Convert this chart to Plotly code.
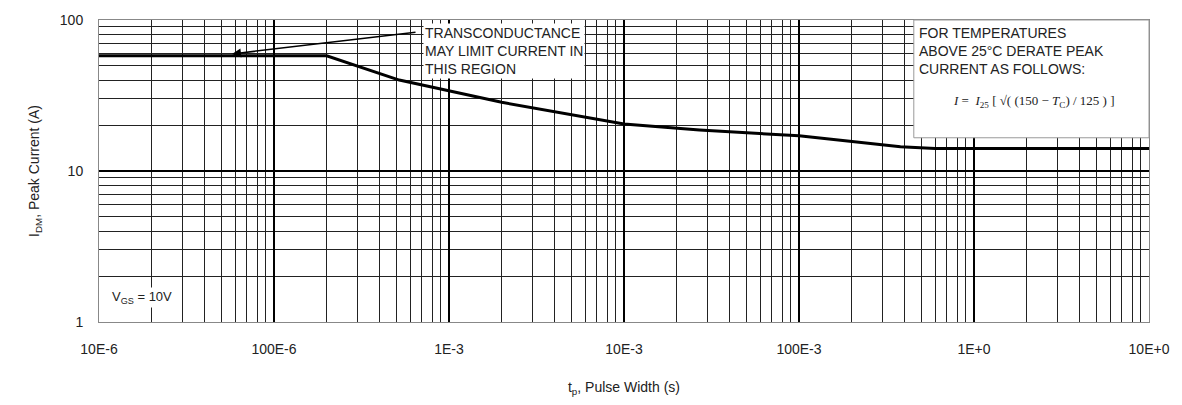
import plotly.graph_objects as go

# Curve: peak drain current vs pulse width
pulse_width_s = [1e-5, 2e-4, 5.2e-4, 2e-3, 1e-2, 2.7e-2, 0.1, 0.38, 0.6, 10]
peak_current_a = [58, 58, 40, 28.5, 20.5, 18.7, 17.1, 14.5, 14.1, 14.1]

x_tick_vals = [1e-5, 1e-4, 1e-3, 1e-2, 1e-1, 1, 10]
x_tick_text = ["10E-6", "100E-6", "1E-3", "10E-3", "100E-3", "1E+0", "10E+0"]
y_tick_vals = [1, 10, 100]
y_tick_text = ["1", "10", "100"]

FONT = "Liberation Sans, Arial, sans-serif"

fig = go.Figure()
fig.add_trace(go.Scatter(
    x=pulse_width_s, y=peak_current_a, mode="lines",
    line=dict(color="black", width=3), showlegend=False, hoverinfo="skip"))

fig.update_layout(
    width=1182, height=405,
    margin=dict(l=99, r=32, t=17, b=83),
    paper_bgcolor="white", plot_bgcolor="white",
    font=dict(family=FONT, size=13, color="#222"),
    xaxis=dict(
        type="log", range=[-5, 1],
        tickmode="array", tickvals=x_tick_vals, ticktext=x_tick_text,
        showgrid=True, gridcolor="black", gridwidth=1.5,
        minor=dict(dtick="D1", showgrid=True, gridcolor="#222", gridwidth=1, ticks=""),
        showline=True, linecolor="#888", linewidth=1, mirror=True,
        ticks="", ticklabelstandoff=14, tickfont=dict(size=14, color="#222"),
        title=dict(text="t<sub>p</sub>, Pulse Width (s)", font=dict(size=14), standoff=26),
        zeroline=False,
    ),
    yaxis=dict(
        type="log", range=[0, 2],
        tickmode="array", tickvals=y_tick_vals, ticktext=y_tick_text,
        showgrid=True, gridcolor="black", gridwidth=1.5,
        minor=dict(dtick="D1", showgrid=True, gridcolor="#222", gridwidth=1, ticks=""),
        showline=True, linecolor="#888", linewidth=1, mirror=True,
        ticks="", ticklabelstandoff=12, tickfont=dict(size=14, color="#222"),
        title=dict(text="I<sub>DM</sub>, Peak Current (A)", font=dict(size=14), standoff=16),
        zeroline=False,
    ),
)

# Transconductance note
fig.add_annotation(
    xref="paper", yref="paper", x=0.309, y=0.99, xanchor="left", yanchor="top",
    text="TRANSCONDUCTANCE<br>MAY LIMIT CURRENT IN<br>THIS REGION",
    showarrow=False, align="left", bgcolor="white",
    font=dict(size=14, color="#222", family=FONT))
fig.add_annotation(
    x=-4.24, y=1.775, xref="x", yref="y", axref="pixel", ayref="pixel",
    ax=185, ay=-22, text="", showarrow=True, arrowhead=2, arrowsize=1.2,
    arrowwidth=1.5, arrowcolor="black")

# Derating note box
fig.add_shape(type="rect", xref="paper", yref="paper",
              x0=0.776, x1=1.0, y0=0.61, y1=1.0,
              line=dict(color="#999", width=1), fillcolor="white", layer="above")
fig.add_annotation(
    xref="paper", yref="paper", x=0.779, y=0.99, xanchor="left", yanchor="top",
    text="FOR TEMPERATURES<br>ABOVE 25°C DERATE PEAK<br>CURRENT AS FOLLOWS:",
    showarrow=False, align="left",
    font=dict(size=14, color="#222", family=FONT))
fig.add_annotation(
    xref="paper", yref="paper", x=0.89, y=0.73, xanchor="center", yanchor="middle",
    text="<i>I</i> =  <i>I</i><sub>25</sub> [ √( (150 − <i>T</i><sub>C</sub>) / 125 ) ]",
    showarrow=False,
    font=dict(size=13, color="#222", family="Liberation Serif, Times New Roman, serif"))

# Gate voltage note
fig.add_annotation(
    xref="paper", yref="paper", x=0.01, y=0.082, xanchor="left", yanchor="middle",
    text="V<sub>GS</sub> = 10V", showarrow=False, bgcolor="white",
    font=dict(size=13, color="#222", family=FONT))

fig.write_html("out.html")
